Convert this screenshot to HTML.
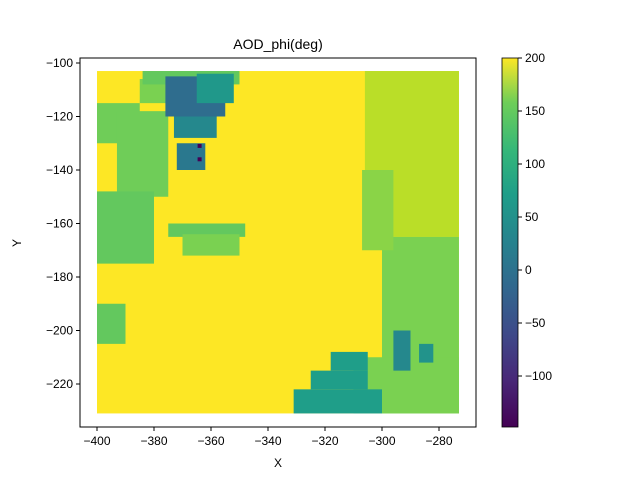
<!DOCTYPE html>
<html><head><meta charset="utf-8"><style>
body{margin:0;background:#fff;font-family:"Liberation Sans",sans-serif}
svg text{font-family:"Liberation Sans",sans-serif;fill:#000}
</style></head><body>
<svg width="640" height="480">
<text x="278" y="49" font-size="14" text-anchor="middle">AOD_phi(deg)</text>
<g id="marks"></g>
<rect x="80" y="58" width="396" height="369" fill="none" stroke="#000" stroke-width="1"/>
<g id="axes" font-size="12"></g>
<text x="278" y="467" font-size="12" text-anchor="middle">X</text>
<text x="21" y="243" font-size="12" text-anchor="middle" transform="rotate(-90 21 243)">Y</text>
<defs><linearGradient id="vir" x1="0" y1="1" x2="0" y2="0">
<stop offset="0" stop-color="#440154"/><stop offset="0.13" stop-color="#482878"/><stop offset="0.25" stop-color="#3e4989"/><stop offset="0.38" stop-color="#31688e"/><stop offset="0.5" stop-color="#26828e"/><stop offset="0.63" stop-color="#1f9e89"/><stop offset="0.75" stop-color="#35b779"/><stop offset="0.88" stop-color="#6ece58"/><stop offset="1" stop-color="#fde725"/></linearGradient></defs>
<rect x="502" y="58" width="16" height="369" fill="url(#vir)" stroke="#000" stroke-width="0.8"/>
<g id="cbar" font-size="12"></g>
</svg>
<script>
const xTicks=[-400,-380,-360,-340,-320,-300,-280];
const yTicks=[-100,-120,-140,-160,-180,-200,-220];
const cbTicks=[200,150,100,50,0,-50,-100];
// regions: [x0,x1,y0,y1]  and values
const regX0=[-400,-306,-300,-310,-318,-325,-331,-400,-393,-400,-385,-384,-376,-372,-365,-375,-370,-400,-373,-307,-296,-287];
const regX1=[-273,-273,-273,-273,-305,-305,-300,-385,-375,-380,-372,-350,-355,-362,-352,-348,-350,-390,-358,-296,-290,-282];
const regY0=[-103,-103,-165,-210,-208,-215,-222,-115,-118,-148,-106,-103,-105,-130,-104,-160,-164,-190,-120,-140,-200,-205];
const regY1=[-231,-165,-231,-231,-215,-222,-231,-130,-150,-175,-115,-108,-120,-140,-115,-165,-172,-205,-128,-170,-215,-212];
const regV=[200,170,130,130,50,50,50,125,125,120,130,120,-40,-20,40,120,130,120,10,140,10,30];
const dotX=[-364,-364];const dotY=[-131,-136];const dotV=[-150,-150];
const X=v=>97+(v+400)*2.85, Y=v=>63+(-100-v)*2.675, C=v=>270-v*1.06;
const stops=[[-150,[68,1,84]],[-100,[72,40,120]],[-50,[49,104,142]],[0,[38,130,142]],[50,[31,158,137]],[100,[53,183,121]],[130,[122,209,81]],[170,[186,222,40]],[200,[253,231,37]]];
function col(v){for(let i=1;i<stops.length;i++){if(v<=stops[i][0]){const a=stops[i-1],b=stops[i],t=(v-a[0])/(b[0]-a[0]);return 'rgb('+a[1].map((c,k)=>Math.round(c+(b[1][k]-c)*t)).join(',')+')';}}return 'rgb(253,231,37)';}
const ns='http://www.w3.org/2000/svg',m=document.getElementById('marks');
function rect(x,y,w,h,f,name){const r=document.createElementNS(ns,'rect');r.setAttribute('x',x);r.setAttribute('y',y);r.setAttribute('width',w);r.setAttribute('height',h);r.setAttribute('fill',f);


m.appendChild(r);}
regV.forEach((v,i)=>{const x0=X(regX0[i]),x1=X(regX1[i]),y0=Y(regY0[i]),y1=Y(regY1[i]);rect(Math.min(x0,x1),Math.min(y0,y1),Math.abs(x1-x0),Math.abs(y1-y0),col(v),'region-'+i);});
dotV.forEach((v,i)=>rect(X(dotX[i])-2,Y(dotY[i])-2,4,4,col(v),'point-'+i));
const ax=document.getElementById('axes');
function txt(p,x,y,s,anc,name){const t=document.createElementNS(ns,'text');t.setAttribute('x',x);t.setAttribute('y',y);t.setAttribute('text-anchor',anc);t.textContent=s;


p.appendChild(t);}
function line(p,x1,y1,x2,y2){const l=document.createElementNS(ns,'line');l.setAttribute('x1',x1);l.setAttribute('y1',y1);l.setAttribute('x2',x2);l.setAttribute('y2',y2);l.setAttribute('stroke','#000');


p.appendChild(l);}
const fmt=v=>String(v).replace('-','\u2212');
xTicks.forEach(v=>{line(ax,X(v),427,X(v),431);txt(ax,X(v),445,fmt(v),'middle','x-tick-label');});
yTicks.forEach(v=>{line(ax,76,Y(v),80,Y(v));txt(ax,73,Y(v)+4,fmt(v),'end','y-tick-label');});
const cb=document.getElementById('cbar');
cbTicks.forEach(v=>{line(cb,518,C(v),522,C(v));txt(cb,525,C(v)+4,fmt(v),'start','colorbar-tick-label');});
</script>
</body></html>
